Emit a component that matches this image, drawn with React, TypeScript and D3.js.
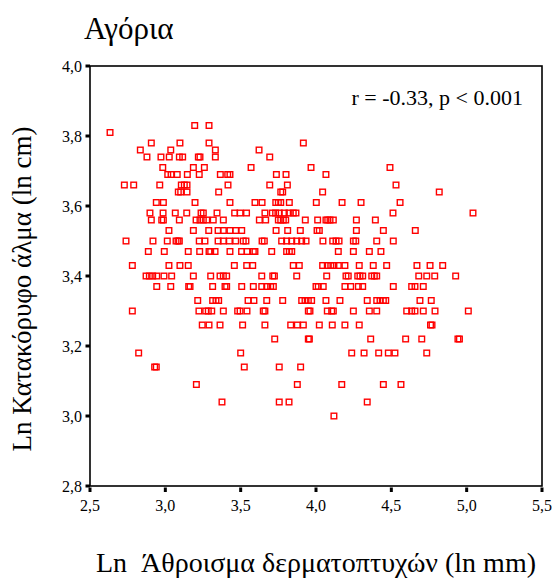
import React, { useRef, useEffect } from 'react';
import * as d3 from 'd3';

const W = 556;
const H = 582;

const titleText = 'Αγόρια';
const xTitle = 'Ln  Άθροισμα δερματοπτυχών (ln mm)';
const yTitle = 'Ln Κατακόρυφο άλμα (ln cm)';
const statText = 'r = -0.33, p < 0.001';

const xTicks = [2.5, 3.0, 3.5, 4.0, 4.5, 5.0, 5.5];
const xTickLabels = ['2,5', '3,0', '3,5', '4,0', '4,5', '5,0', '5,5'];
const yTicks = [2.8, 3.0, 3.2, 3.4, 3.6, 3.8, 4.0];
const yTickLabels = ['2,8', '3,0', '3,2', '3,4', '3,6', '3,8', '4,0'];

// jump heights come in whole cm, so the points sit on rows
const yLevels = [3.83, 3.81, 3.78, 3.76, 3.74, 3.71, 3.69, 3.66, 3.64, 3.61, 3.58, 3.56, 3.53, 3.50,
  3.47, 3.43, 3.40, 3.37, 3.33, 3.30, 3.26, 3.22, 3.18, 3.14, 3.09, 3.04, 3.00];

const xRows: number[][] = [
  [3.195, 3.29],
  [2.633],
  [2.907, 3.097, 3.29, 3.916],
  [2.834, 3.036, 3.332, 3.622],
  [2.878, 2.971, 3.026, 3.093, 3.115, 3.219, 3.23, 3.332, 3.693],
  [2.983, 3.186, 3.259, 3.569, 3.967, 4.491],
  [3.016, 3.038, 3.079, 3.146, 3.225, 3.365, 3.414, 3.429, 3.737, 3.801, 4.066],
  [2.728, 2.79, 2.963, 3.106, 3.126, 3.144, 3.416, 3.693, 3.81, 4.531],
  [3.086, 3.102, 3.144, 3.354, 3.766, 3.779, 4.044, 4.818],
  [2.94, 2.987, 3.197, 3.429, 3.595, 3.642, 3.733, 3.75, 3.766, 3.823, 4.002, 4.173, 4.299, 4.558],
  [2.898, 2.985, 3.066, 3.142, 3.237, 3.252, 3.343, 3.46, 3.496, 3.539, 3.661, 3.71, 3.732, 3.756,
    3.79, 3.821, 3.849, 3.867, 4.511, 5.042],
  [2.907, 2.976, 2.987, 3.093, 3.204, 3.23, 3.252, 3.275, 3.318, 3.385, 3.624, 3.666, 3.75, 3.766,
    3.783, 3.799, 3.929, 4.011, 4.066, 4.078, 4.093, 4.115, 4.268, 4.394],
  [3.024, 3.186, 3.288, 3.35, 3.385, 3.429, 3.467, 3.507, 3.735, 3.812, 3.896, 4.007, 4.022, 4.268,
    4.447, 4.659],
  [2.739, 2.918, 3.013, 3.071, 3.084, 3.093, 3.225, 3.263, 3.35, 3.385, 3.425, 3.467, 3.517, 3.535,
    3.642, 3.657, 3.772, 3.805, 3.839, 3.872, 3.905, 3.934, 4.046, 4.111, 4.133, 4.153, 4.248, 4.264,
    4.403, 4.513],
  [2.887, 2.993, 3.152, 3.228, 3.29, 3.301, 3.33, 3.429, 3.506, 3.542, 3.584, 3.595, 3.706, 3.805,
    3.823, 3.839, 4.148, 4.248, 4.354, 4.431],
  [2.781, 3.024, 3.097, 3.152, 3.458, 3.54, 3.58, 3.849, 3.889, 4.044, 4.075, 4.098, 4.119, 4.148,
    4.192, 4.287, 4.38, 4.469, 4.67, 4.757, 4.841],
  [2.872, 2.894, 2.916, 2.943, 2.991, 3.042, 3.186, 3.301, 3.363, 3.385, 3.407, 3.64, 3.713, 3.724,
    3.872, 4.071, 4.199, 4.214, 4.277, 4.292, 4.31, 4.37, 4.387, 4.403, 4.682, 4.735, 4.788, 4.927],
  [2.943, 3.036, 3.155, 3.164, 3.314, 3.396, 3.407, 3.507, 3.584, 3.64, 3.673, 3.699, 3.717, 4.0,
    4.015, 4.048, 4.192, 4.23, 4.281, 4.31, 4.513, 4.635, 4.657, 4.712],
  [3.215, 3.314, 3.336, 3.354, 3.549, 3.588, 3.673, 3.779, 3.905, 3.927, 3.949, 3.971, 4.066, 4.159,
    4.34, 4.403, 4.425, 4.447, 4.463, 4.69, 4.765],
  [2.781, 3.223, 3.268, 3.285, 3.308, 3.385, 3.48, 3.496, 3.542, 3.65, 3.661, 3.949, 3.96, 4.075,
    4.104, 4.115, 4.248, 4.354, 4.403, 4.602, 4.635, 4.657, 4.712, 4.79, 5.011],
  [3.245, 3.29, 3.363, 3.513, 3.661, 3.832, 3.876, 3.916, 4.022, 4.108, 4.192, 4.287, 4.76, 4.77],
  [3.726, 3.949, 3.956, 4.363, 4.595, 4.702, 4.942, 4.952],
  [2.823, 3.5, 4.237, 4.319, 4.416, 4.48, 4.524, 4.735],
  [2.929, 2.94, 3.524, 3.756, 3.898],
  [3.206, 3.876, 4.171, 4.447, 4.564],
  [3.376, 3.756, 3.821, 4.34],
  [4.119],
];

export default function App() {
  const svgRef = useRef<SVGSVGElement>(null);

  useEffect(() => {
    const svg = d3.select(svgRef.current);
    svg.selectAll('*').remove();

    const left = 90, right = 542, top = 66, bottom = 486;
    const font = '"Liberation Serif", "Times New Roman", serif';

    const x = d3.scaleLinear().domain([2.5, 5.5]).range([left, right]);
    const y = d3.scaleLinear().domain([2.8, 4.0]).range([bottom, top]);

    const points = yLevels.flatMap((lv, i) => xRows[i].map(v => ({ x: v, y: lv })));

    // markers
    const s = 5.6;
    svg.append('g')
      .selectAll('rect')
      .data(points)
      .join('rect')
      .attr('x', d => x(d.x) - s / 2)
      .attr('y', d => y(d.y) - s / 2)
      .attr('width', s)
      .attr('height', s)
      .attr('fill', 'none')
      .attr('stroke', '#ff0000')
      .attr('stroke-width', 1.4);

    // frame
    svg.append('rect')
      .attr('x', left)
      .attr('y', top)
      .attr('width', right - left)
      .attr('height', bottom - top)
      .attr('fill', 'none')
      .attr('stroke', '#000')
      .attr('stroke-width', 1.6);

    // y ticks
    svg.append('g')
      .selectAll('line')
      .data(yTicks)
      .join('line')
      .attr('x1', left - 4.5)
      .attr('x2', left)
      .attr('y1', d => y(d))
      .attr('y2', d => y(d))
      .attr('stroke', '#000')
      .attr('stroke-width', 3);

    svg.append('g')
      .selectAll('text')
      .data(yTicks)
      .join('text')
      .attr('x', left - 8)
      .attr('y', d => y(d) + 5.5)
      .attr('text-anchor', 'end')
      .attr('font-family', font)
      .attr('font-size', 16)
      .text((d, i) => yTickLabels[i]);

    // x ticks
    svg.append('g')
      .selectAll('line')
      .data(xTicks)
      .join('line')
      .attr('x1', d => x(d))
      .attr('x2', d => x(d))
      .attr('y1', bottom + 1.5)
      .attr('y2', bottom + 6)
      .attr('stroke', '#000')
      .attr('stroke-width', 3);

    svg.append('g')
      .selectAll('text')
      .data(xTicks)
      .join('text')
      .attr('x', d => x(d))
      .attr('y', bottom + 25)
      .attr('text-anchor', 'middle')
      .attr('font-family', font)
      .attr('font-size', 16)
      .text((d, i) => xTickLabels[i]);

    // texts
    svg.append('text')
      .attr('x', 84)
      .attr('y', 39)
      .attr('font-family', font)
      .attr('font-size', 31)
      .text(titleText);

    svg.append('text')
      .attr('x', 523)
      .attr('y', 105)
      .attr('text-anchor', 'end')
      .attr('font-family', font)
      .attr('font-size', 22)
      .text(statText);

    svg.append('text')
      .attr('x', (left + right) / 2)
      .attr('y', 572)
      .attr('text-anchor', 'middle')
      .attr('font-family', font)
      .attr('font-size', 28)
      .attr('xml:space', 'preserve')
      .style('white-space', 'pre')
      .text(xTitle);

    svg.append('text')
      .attr('transform', `translate(31,289) rotate(-90)`)
      .attr('text-anchor', 'middle')
      .attr('font-family', font)
      .attr('font-size', 27)
      .text(yTitle);
  }, []);

  return (
    <svg
      ref={svgRef}
      width={W}
      height={H}
      style={{ position: 'absolute', left: 0, top: 0, background: '#fff' }}
    />
  );
}
